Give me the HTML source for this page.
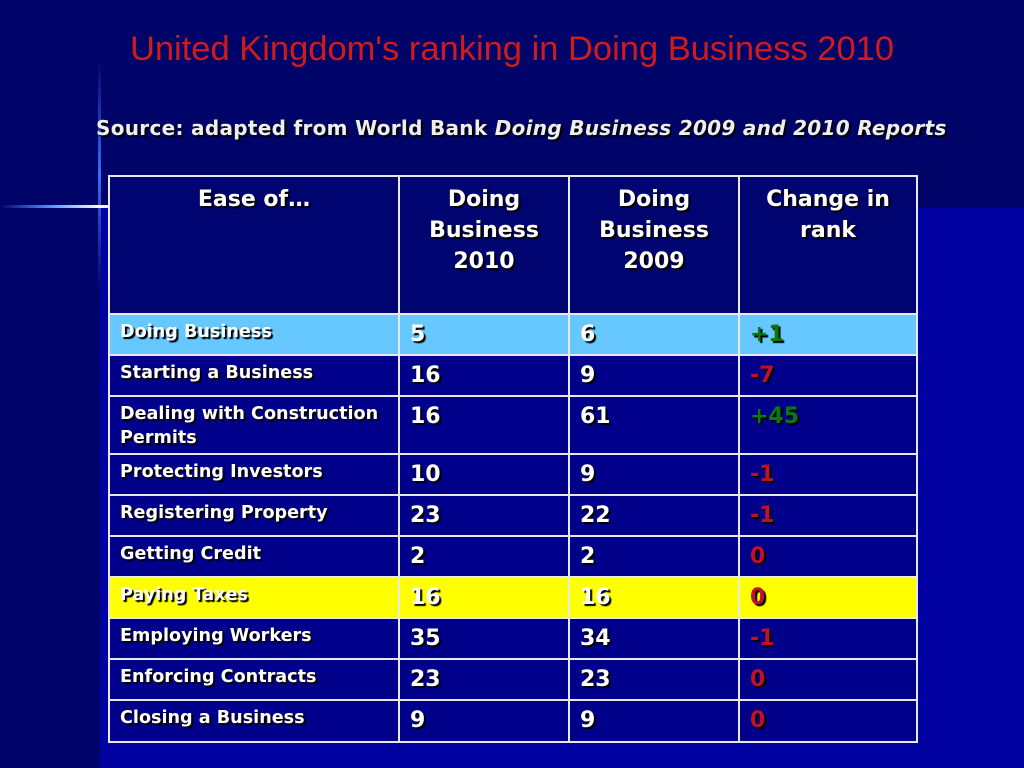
<!DOCTYPE html>
<html><head><meta charset="utf-8"><style>
body{margin:0;width:1024px;height:768px;overflow:hidden;background:#000468;font-family:"DejaVu Sans","Liberation Sans",sans-serif;position:relative}
.bg2{position:absolute;left:100px;top:208px;width:924px;height:560px;background:#0202a2}
.vl{position:absolute;left:98px;top:60px;width:3px;height:230px;background:linear-gradient(#000468,#3a6cff,#000468)}
.hl{position:absolute;left:0;top:205px;width:200px;height:3px;background:linear-gradient(90deg,#000468,#5a8cff,#fff,#5a8cff,#000468)}
h1{position:absolute;left:0;width:1024px;top:30px;margin:0;text-align:center;font:400 34.5px "Liberation Sans",sans-serif;color:#d11a1a}
.src{position:absolute;left:96px;top:116px;font-weight:bold;font-size:20px;letter-spacing:0.3px;color:#eee;text-shadow:2px 2px 1px #000;white-space:nowrap}
.c{position:absolute;box-sizing:border-box;border:2px solid #e8e8f0;color:#fff;font-weight:bold;text-shadow:2px 2px 1px #000;background:#00008a}
.h{background:#000470;font-size:22px;text-align:center;padding-top:7px;line-height:31px}
.l{font-size:17.6px;padding:5px 0 0 10px;line-height:24px}
.n{font-size:22px;padding:7px 0 0 10px}
.g{color:#0a7a0a}.r{color:#c0102a}
</style></head><body>
<div class="bg2"></div>
<div class="vl"></div>
<div class="hl"></div>
<h1>United Kingdom's ranking in Doing Business 2010</h1>
<div class="src">Source: adapted from World Bank <i>Doing Business 2009 and 2010 Reports</i></div>
<div id="t"></div>
<script>
const labels=["Doing Business","Starting a Business","Dealing with Construction Permits","Protecting Investors","Registering Property","Getting Credit","Paying Taxes","Employing Workers","Enforcing Contracts","Closing a Business"];
const db2010=[5,16,16,10,23,2,16,35,23,9];
const db2009=[6,9,61,9,22,2,16,34,23,9];
const change=["+1","-7","+45","-1","-1","0","0","-1","0","0"];
const t=document.getElementById('t');
const xs=[108,398,568,738,916];
const ys=[175,313,354,395,453,494,535,576,617,658,699,741];
function cell(x0,x1,y0,y1,cls,html,name){const d=document.createElement('div');d.className='c '+cls;d.style.left=x0+'px';d.style.top=y0+'px';d.style.width=(x1-x0+2)+'px';d.style.height=(y1-y0+2)+'px';d.innerHTML=html;


t.appendChild(d);return d;}
const hd=["Ease of…","Doing<br>Business<br>2010","Doing<br>Business<br>2009","Change in<br>rank"];
hd.forEach((h,i)=>cell(xs[i],xs[i+1],ys[0],ys[1],'h',h,'header-cell'));
labels.forEach((lab,r)=>{const y0=ys[r+1],y1=ys[r+2];
const bg=r==0?'#66c8ff':r==6?'#ffff00':null;
const vals=[lab,db2010[r],db2009[r],change[r]];
vals.forEach((v,i)=>{const cls=i==0?'l':'n'+(i==3?(String(v).startsWith('+')?' g':' r'):'');
const d=cell(xs[i],xs[i+1],y0,y1,cls,v,i==0?'row-label':i==3?'change-value':'rank-value');if(bg)d.style.background=bg;});});
</script>
</body></html>
